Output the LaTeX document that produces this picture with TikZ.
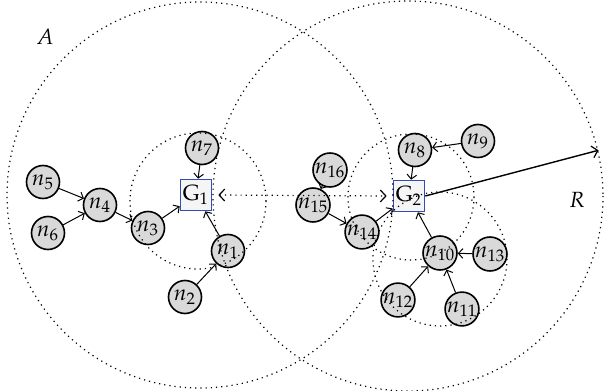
\documentclass[tikz,border=0pt]{standalone}
\usepackage{amsmath,amssymb}
\usepackage{mathpazo}
\usepackage{tikz}
\usetikzlibrary{calc,arrows.meta}
\definecolor{nodegray}{gray}{0.85}
\definecolor{boxgray}{gray}{0.96}
\definecolor{boxblue}{rgb}{0.2,0.3,0.7}
\tikzset{
  unit/.style={circle,draw,line width=0.8pt,fill=nodegray,minimum size=16.5pt,inner sep=0pt,font=\fontsize{11}{12}\selectfont},
  gate/.style={rectangle,draw=boxblue,line width=0.8pt,fill=boxgray,minimum size=15.5pt,inner sep=0pt,font=\fontsize{11}{12}\selectfont},
  zone/.style={dotted,line width=0.6pt},
  smalltip/.tip={Straight Barb[length=2.2pt,width=4.8pt,line width=0.5pt]},
  bigtip/.tip={Straight Barb[length=2.8pt,width=6pt,line width=0.6pt]},
  link/.style={-smalltip,line width=0.5pt}
}

\begin{document}
\begin{tikzpicture}[x=0.5pt,y=-0.5pt]
    \useasboundingbox (0,0) rectangle (607,391);
    % gateways
    \node[gate] (G1) at (196,195) {$\mathrm{G}_1$};
    \node[gate] (G2) at (409,196) {$\mathrm{G}_2$};
    % sensor nodes
    \node[unit] (n1) at (228,251) {$n_1$};
    \node[unit] (n2) at (185,297) {$n_2$};
    \node[unit] (n3) at (148,228) {$n_3$};
    \node[unit] (n4) at (100,205) {$n_4$};
    \node[unit] (n5) at (43,182) {$n_5$};
    \node[unit] (n6) at (48,233) {$n_6$};
    \node[unit] (n7) at (202,148) {$n_7$};
    \node[unit] (n8) at (415,150) {$n_8$};
    \node[unit] (n9) at (478,141) {$n_9$};
    \node[unit] (n10) at (440,253) {$n_{10}$};
    \node[unit] (n11) at (462,309) {$n_{11}$};
    \node[unit] (n12) at (398,300) {$n_{12}$};
    \node[unit] (n13) at (490,254) {$n_{13}$};
    \node[unit] (n14) at (362,232) {$n_{14}$};
    \node[unit] (n15) at (313,205) {$n_{15}$};
    \node[unit] (n16) at (330,170) {$n_{16}$};
    % ranges
    \coordinate (cA) at (200,195);
    \coordinate (cR) at (408,196);
    \draw[zone] (cA) circle (193);
    \draw[zone] (cR) circle (195);
    \draw[zone] (198,201) circle (68);
    \draw[zone] (411,197) circle (63);
    \draw[zone] (440,259) circle (67);
    \node[font=\fontsize{11}{12}\selectfont] at (45,37) {$A$};
    \node[font=\fontsize{11}{12}\selectfont] at (577,200) {$R$};
    % links
    \draw[link] (n5) -- (n4);
    \draw[link] (n6) -- (n4);
    \draw[link] (n4) -- (n3);
    \draw[link] (n3) -- (G1);
    \draw[link] (n7) -- (G1);
    \draw[link] (n1) -- (G1);
    \draw[link] (n2) -- (n1);
    \draw[link] (n9) -- (n8);
    \draw[link] (n8) -- (G2);
    \draw[link] (n16) -- (n15);
    \draw[link] (n15) -- (n14);
    \draw[link] (n14) -- (G2);
    \draw[link] (n10) -- (G2);
    \draw[link] (n13) -- (n10);
    \draw[link] (n12) -- (n10);
    \draw[link] (n11) -- (n10);
    \draw[zone,bigtip-bigtip] ([xshift=3pt]G1.east) -- ([xshift=-3pt]G2.west);
    \coordinate (rEnd) at ($(cR)+(-13.5:196)$);
    \draw[-bigtip,line width=0.7pt] (G2.east) -- (rEnd);
\end{tikzpicture}
\end{document}
